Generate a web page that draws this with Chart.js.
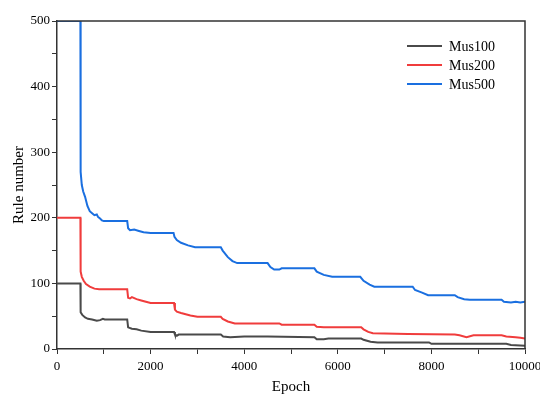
<!DOCTYPE html>
<html>
<head>
<meta charset="utf-8">
<script src="https://cdn.jsdelivr.net/npm/chart.js@4/dist/chart.umd.min.js"></script>
<style>
html,body{margin:0;padding:0;background:#fff;}
#wrap{width:540px;height:394px;}
</style>
</head>
<body>
<div id="wrap"><canvas id="c" width="540" height="394"></canvas></div>
<script>
// ---- data ----
const seriesLabels = ['Mus100', 'Mus200', 'Mus500'];

const mus100Epoch = [0,500,505,540,600,660,750,850,920,980,1020,1500,1520,1600,1700,1800,2000,2500,2520,2560,2600,3500,3550,3700,4000,4500,5500,5550,5700,5800,6500,6550,6700,6850,7950,8000,9600,9700,10000];
const mus100Value = [100,100,56,52,48,46,45,43,44,46,45,45,33,31,30,28,26,26,22,20,22,22,19,18,19,19,18,15,15,16,16,14,11,10,10,8,8,6,5];

const mus200Epoch = [0,500,505,530,570,620,700,800,900,1500,1520,1560,1600,1700,1800,1900,2000,2500,2520,2560,2650,2750,2850,3000,3500,3540,3650,3800,4750,4800,5500,5550,5700,6500,6550,6650,6750,7500,8500,8600,8750,8900,9500,9600,9800,9900,10000];
const mus200Value = [200,200,118,110,104,99,95,92,91,91,78,77,79,76,74,72,70,70,60,57,55,53,51,49,49,46,42,39,39,37,37,34,33,33,30,26,24,23,22,21,18,21,21,19,18,17,16];

const mus500Epoch = [0,500,505,530,560,600,650,700,750,800,850,880,920,960,1000,1500,1520,1560,1650,1750,1850,2000,2490,2510,2560,2650,2800,2950,3500,3540,3650,3750,3850,4500,4560,4640,4750,4800,5500,5550,5700,5880,6480,6550,6680,6780,7600,7650,7800,7930,8500,8560,8700,8820,9500,9550,9700,9800,9900,10000];
const mus500Value = [500,500,270,250,240,232,218,210,207,204,205,201,199,196,195,195,184,181,182,180,178,177,177,171,166,162,158,155,155,150,140,134,131,131,125,121,121,123,123,118,113,110,110,104,98,95,95,90,86,82,82,79,76,75,75,72,71,72,71,72];

const yTickValues = [0,100,200,300,400,500];
const xTickValues = [0,2000,4000,6000,8000,10000];

const colors = ['#4a4a4a', '#f03c3c', '#1a6fe0'];

function pts(xs, ys){ return xs.map((x,i)=>({x:x, y:ys[i]})); }

const serif = "'Liberation Serif', 'Times New Roman', serif";

const framePlugin = {
  id: 'frame',
  afterDatasetsDraw(chart){
    const {ctx, chartArea:a} = chart;
    ctx.save();
    ctx.strokeStyle = '#333';
    ctx.lineWidth = 1.5;
    ctx.beginPath();
    ctx.moveTo(a.left, a.top);
    ctx.lineTo(a.right, a.top);
    ctx.lineTo(a.right, a.bottom);
    ctx.stroke();
    ctx.restore();
  }
};

const legendPlugin = {
  id: 'inlegend',
  afterDraw(chart){
    const {ctx, chartArea:a} = chart;
    ctx.save();
    ctx.font = '14px ' + serif;
    ctx.textBaseline = 'middle';
    chart.data.datasets.forEach((ds, i) => {
      const y = a.top + 25 + i*19;
      const x0 = a.left + 350;
      ctx.strokeStyle = ds.borderColor;
      ctx.lineWidth = 2;
      ctx.beginPath();
      ctx.moveTo(x0, y);
      ctx.lineTo(x0 + 35, y);
      ctx.stroke();
      ctx.fillStyle = '#000';
      ctx.fillText(ds.label, x0 + 42, y + 1);
    });
    ctx.restore();
  }
};

new Chart(document.getElementById('c'), {
  type: 'line',
  data: {
    datasets: [
      {label: seriesLabels[0], data: pts(mus100Epoch, mus100Value), borderColor: colors[0]},
      {label: seriesLabels[1], data: pts(mus200Epoch, mus200Value), borderColor: colors[1]},
      {label: seriesLabels[2], data: pts(mus500Epoch, mus500Value), borderColor: colors[2]}
    ]
  },
  options: {
    responsive: false,
    animation: false,
    devicePixelRatio: 1,
    layout: {padding: {top: 21, right: 15, left: 0, bottom: 0}},
    elements: {
      point: {radius: 0},
      line: {borderWidth: 2, tension: 0}
    },
    plugins: {legend: {display: false}, tooltip: {enabled: false}},
    scales: {
      x: {
        type: 'linear', min: 0, max: 10000,
        border: {color: '#333', width: 1.5},
        grid: {drawOnChartArea: false, drawTicks: true, tickLength: 5, color: '#333'},
        ticks: {
          stepSize: 1000, autoSkip: false, maxRotation: 0, padding: 5,
          color: '#000', font: {family: serif, size: 13},
          callback: v => xTickValues.includes(v) ? String(v) : ''
        },
        title: {display: true, text: 'Epoch', color: '#000', font: {family: serif, size: 15, lineHeight: 1}, padding: {top: 0, bottom: -1}},
        afterFit: s => { s.height = 45; s.paddingLeft = 0; s.paddingRight = 0; }
      },
      y: {
        min: 0, max: 500,
        border: {color: '#333', width: 1.5},
        grid: {drawOnChartArea: false, drawTicks: true, tickLength: 5, color: '#333'},
        ticks: {
          stepSize: 50, autoSkip: false, padding: 2,
          color: '#000', font: {family: serif, size: 13},
          callback: v => yTickValues.includes(v) ? String(v) : ''
        },
        title: {display: true, text: 'Rule number', color: '#000', font: {family: serif, size: 15, lineHeight: 1}, padding: {top: 12, bottom: 0}},
        afterFit: s => { s.width = 57; s.paddingTop = 0; s.paddingBottom = 0; }
      }
    }
  },
  plugins: [framePlugin, legendPlugin]
});
</script>
</body>
</html>
